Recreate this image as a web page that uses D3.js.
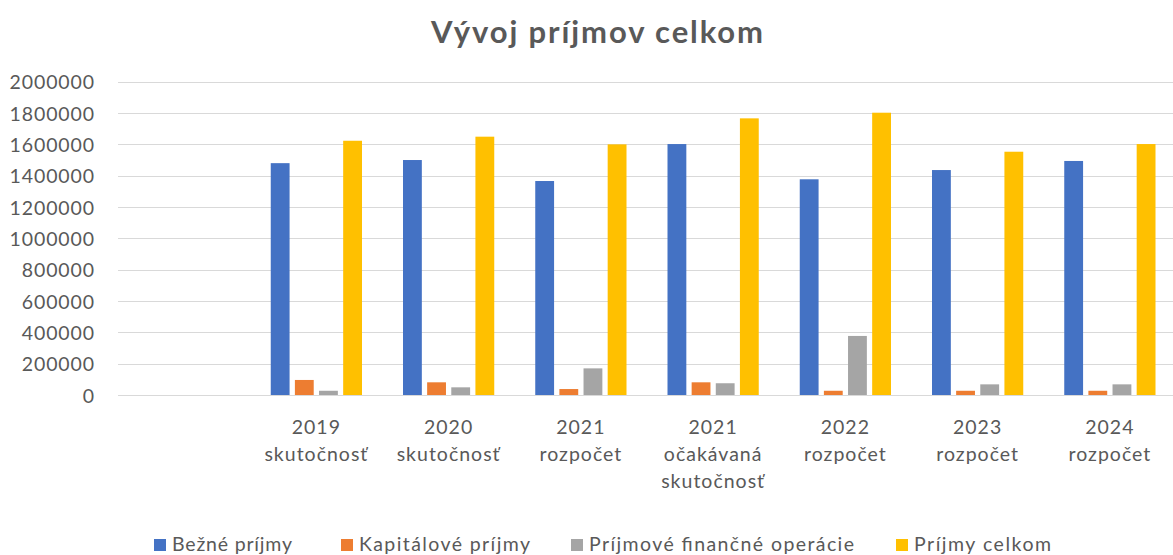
<!DOCTYPE html>
<html><head><meta charset="utf-8">
<script src="https://cdn.jsdelivr.net/npm/d3@7"></script>
<style>body{margin:0;background:#fff}svg{display:block}</style>
</head><body>
<svg id="c" width="1173" height="555"></svg>
<script>
const categories = [["",""],["2019","skutočnosť"],["2020","skutočnosť"],["2021","rozpočet"],["2021","očakávaná","skutočnosť"],["2022","rozpočet"],["2023","rozpočet"],["2024","rozpočet"]];
const seriesNames = ["Bežné príjmy","Kapitálové príjmy","Príjmové finančné operácie","Príjmy celkom"];
const bezne =      [null,1480000,1500000,1366000,1602000,1377000,1436000,1494000];
const kapitalove = [null,  96000,  81000,  38000,  81000,  27000,  27000,  27000];
const financne =   [null,  27000,  49000, 170000,  75000, 377000,  68000,  68000];
const celkom =     [null,1623000,1649000,1600000,1766000,1802000,1553000,1602000];
const yTicks = [0,200000,400000,600000,800000,1000000,1200000,1400000,1600000,1800000,2000000];
const colors = ["#4472C4","#ED7D31","#A5A5A5","#FFC000"];
const series = [bezne,kapitalove,financne,celkom];

const svg = d3.select("#c");
const font = "Lato, 'Open Sans', sans-serif";
const textColor = "#595959";

const x = d3.scaleBand().domain(d3.range(categories.length)).range([118,1176]).paddingInner(0.31).paddingOuter(0.155);
const x1 = d3.scaleBand().domain(d3.range(series.length)).range([0,x.bandwidth()]).paddingInner(0.22);
const y = d3.scaleLinear().domain([0,2000000]).range([395,81.7]);

// gridlines
svg.append("g").selectAll("line").data(yTicks).join("line")
  .attr("x1",118).attr("x2",1173)
  .attr("y1",d=>Math.round(y(d))+0.5).attr("y2",d=>Math.round(y(d))+0.5)
  .attr("stroke","#d9d9d9").attr("stroke-width",1.2);

// y axis labels
const yAxis = d3.axisLeft(y).tickValues(yTicks).tickSize(0).tickPadding(0).tickFormat(d3.format("d"));
const ya = svg.append("g").attr("transform","translate(95,0)").call(yAxis);
ya.select(".domain").remove();
ya.selectAll("text").attr("font-family",font).attr("font-size",19.5).attr("letter-spacing","0.9px")
  .attr("fill",textColor).attr("dy","0.36em");

// bars
series.forEach((s,si)=>{
  svg.append("g").selectAll("rect").data(s.map((v,i)=>({v,i})).filter(d=>d.v!=null)).join("rect")
    .attr("x",d=>x(d.i)+x1(si))
    .attr("width",x1.bandwidth())
    .attr("y",d=>y(d.v))
    .attr("height",d=>y(0)-y(d.v))
    .attr("fill",colors[si]);
});

// x labels
const xl = svg.append("g");
categories.forEach((lines,i)=>{
  const t = xl.append("text").attr("text-anchor","middle").attr("font-family",font)
    .attr("font-size",19.5).attr("letter-spacing","1px").attr("fill",textColor);
  lines.forEach((ln,j)=>{
    t.append("tspan").attr("x",x(i)+x.bandwidth()/2).attr("y",434+j*27).text(ln);
  });
});

// title
svg.append("text").attr("x",597).attr("y",43).attr("text-anchor","middle")
  .attr("font-family",font).attr("font-weight","bold").attr("font-size",31)
  .attr("textLength",332).attr("lengthAdjust","spacing")
  .attr("fill",textColor).text("Vývoj príjmov celkom");

// legend
const legX = [154,341,571,896];
const legW = [120,171,265,137];
const lg = svg.append("g");
seriesNames.forEach((n,i)=>{
  lg.append("rect").attr("x",legX[i]).attr("y",539).attr("width",12).attr("height",12).attr("fill",colors[i]);
  lg.append("text").attr("x",legX[i]+18).attr("y",551).attr("font-family",font).attr("font-size",19.5)
    .attr("textLength",legW[i]).attr("lengthAdjust","spacing")
    .attr("fill",textColor).text(n);
});
</script>
</body></html>
